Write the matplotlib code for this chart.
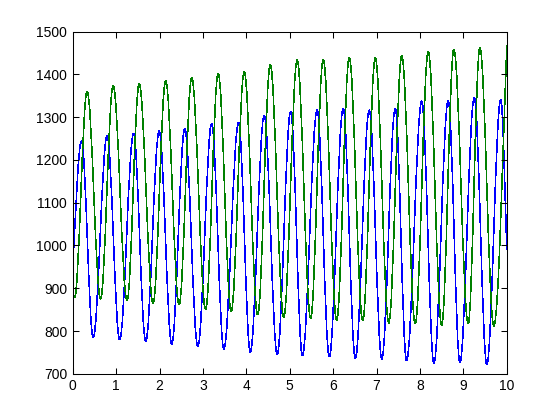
import numpy as np
import matplotlib
matplotlib.use("Agg")
import matplotlib.pyplot as plt
from matplotlib.path import Path
from matplotlib.patches import PathPatch

plt.rcParams['font.family'] = ['Liberation Sans', 'DejaVu Sans']

# ---- data ----
# blue series: start/end values and extrema (time, value)
blue_start = (0.0, 955)
blue_end = (10.0, 990)
blue_peak_t = [0.20, 0.79, 1.40, 1.99, 2.58, 3.20, 3.82, 4.41, 5.02, 5.63, 6.23, 6.83, 7.43, 8.04, 8.65, 9.25, 9.86]
blue_peak_v = [1244, 1256, 1261, 1267, 1273, 1285, 1287, 1304, 1313, 1316, 1320, 1316, 1320, 1337, 1338, 1345, 1341]
blue_trough_t = [0.47, 1.08, 1.68, 2.28, 2.88, 3.48, 4.09, 4.71, 5.29, 5.91, 6.51, 7.12, 7.69, 8.32, 8.92, 9.54]
blue_trough_v = [785, 780, 776, 770, 764, 758, 751, 745, 743, 740, 737, 735, 731, 725, 727, 722]

# green series
green_start = (0.0, 881)
green_end = (10.0, 1467)
green_peak_t = [0.33, 0.93, 1.53, 2.14, 2.74, 3.35, 3.95, 4.55, 5.17, 5.77, 6.37, 6.97, 7.58, 8.19, 8.78, 9.38]
green_peak_v = [1360, 1374, 1378, 1385, 1392, 1402, 1406, 1423, 1433, 1435, 1439, 1439, 1443, 1453, 1458, 1462]
green_trough_t = [0.04, 0.64, 1.25, 1.85, 2.45, 3.06, 3.65, 4.26, 4.86, 5.48, 6.08, 6.68, 7.28, 7.89, 8.50, 9.11, 9.70]
green_trough_v = [878, 875, 871, 865, 862, 851, 846, 838, 832, 830, 826, 824, 819, 817, 814, 817, 812]

x_ticks = [0, 1, 2, 3, 4, 5, 6, 7, 8, 9, 10]
y_ticks = [700, 800, 900, 1000, 1100, 1200, 1300, 1400, 1500]


def smooth_path(start, end, pt, pv, tt, tv):
    ext = sorted(zip(pt + tt, pv + tv))
    pts = [start] + ext + [end]
    verts = [pts[0]]
    codes = [Path.MOVETO]
    n = len(pts)
    for i in range(n - 1):
        (t0, v0), (t1, v1) = pts[i], pts[i + 1]
        dt = t1 - t0
        a = 0.363
        flat0 = i != 0
        flat1 = i + 1 != n - 1
        c1 = (t0 + a * dt, v0) if flat0 else (t0 + dt / 3, v0 + (v1 - v0) * 0.4)
        c2 = (t1 - a * dt, v1) if flat1 else (t1 - dt / 3, v1 - (v1 - v0) * 0.4)
        verts += [c1, c2, (t1, v1)]
        codes += [Path.CURVE4] * 3
    return Path(verts, codes)


fig = plt.figure(figsize=(5.6, 4.2), dpi=100, facecolor="white")
ax = fig.add_axes([0.13, 0.11, 0.775, 0.815])

for args, col in [((blue_start, blue_end, blue_peak_t, blue_peak_v, blue_trough_t, blue_trough_v), (0, 0, 1)),
                  ((green_start, green_end, green_peak_t, green_peak_v, green_trough_t, green_trough_v), (0, 0.5, 0))]:
    p = smooth_path(*args)
    patch = PathPatch(p, facecolor="none", edgecolor=col, lw=0.4, antialiased=False)
    ax.add_patch(patch)

ax.set_xlim(0, 10)
ax.set_ylim(700, 1500)
ax.set_xticks(x_ticks)
ax.set_yticks(y_ticks)
ax.tick_params(direction="in", length=4, width=0.75, top=True, right=True,
               labelsize=10, pad=4, colors="black")
for s in ax.spines.values():
    s.set_linewidth(0.75)
    s.set_color("black")

fig.savefig("out.png", dpi=100, facecolor="white")
